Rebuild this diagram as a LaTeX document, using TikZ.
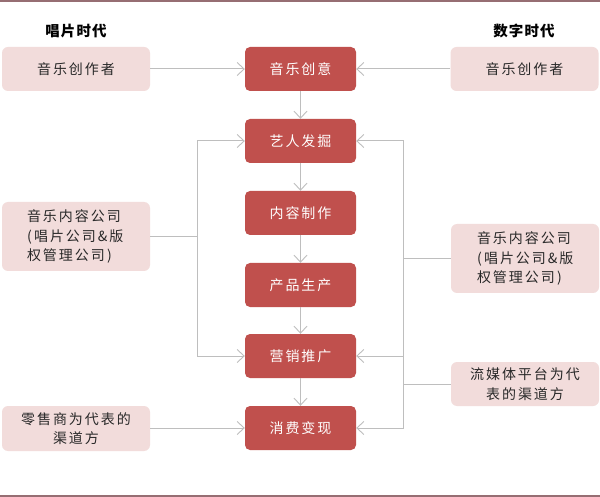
\documentclass[tikz,border=0pt]{standalone}
\usepackage{fontspec}
\setmainfont{Noto Sans CJK SC}
\newfontfamily\cjk{Noto Sans CJK SC}
\usetikzlibrary{arrows.meta}
\definecolor{stepred}{HTML}{C0504D}
\definecolor{sidepink}{HTML}{F2DCDB}
\definecolor{linegray}{RGB}{190,190,190}
\definecolor{rulecol}{RGB}{150,110,115}
\definecolor{txtgray}{RGB}{40,40,40}
\begin{document}
\begin{tikzpicture}[x=1pt,y=-1pt,
  stepbox/.style={fill=stepred, rounded corners=5pt, minimum width=111pt, minimum height=44pt,
    inner sep=0pt, text=white, font=\fontsize{14}{19}\selectfont\addfontfeature{LetterSpace=14}},
  sidebox/.style={fill=sidepink, rounded corners=6pt, minimum width=148pt, inner sep=0pt,
    text=txtgray, font=\fontsize{14}{19.5}\selectfont\addfontfeature{LetterSpace=14}},
  title/.style={text=black, font=\fontsize{14.5}{18}\selectfont\bfseries\addfontfeature{LetterSpace=8}},
  conn/.style={draw=linegray, line width=1pt},
  arr/.style={conn, -{Straight Barb[length=7pt,width=13pt,line width=0.9pt]}}
]
\useasboundingbox (0,0) rectangle (600,497);
\fill[white] (0,0) rectangle (600,497);
\fill[rulecol] (0,0) rectangle (600,2);
\fill[rulecol] (0,495) rectangle (600,497);

% titles
\node[title] (t1) at (76,31) {唱片时代};
\node[title] (t2) at (524,31) {数字时代};

% center steps
\node[stepbox] (s1) at (300.5,69) {音乐创意};
\node[stepbox] (s2) at (300.5,141) {艺人发掘};
\node[stepbox] (s3) at (300.5,213) {内容制作};
\node[stepbox] (s4) at (300.5,285) {产品生产};
\node[stepbox] (s5) at (300.5,356) {营销推广};
\node[stepbox] (s6) at (300.5,428) {消费变现};

% side boxes
\node[sidebox, minimum height=44pt] (l1) at (76,69) {音乐创作者};
\node[sidebox, minimum height=69pt, text width=148pt, align=left] (l2) at (76,236.5)
  {\hspace*{25pt}\parbox{112pt}{音乐内容公司\\(\,唱片公司\&版\\权管理公司\,)}};
\node[sidebox, minimum height=45pt, align=center] (l3) at (76,428.5) {零售商为代表的\\渠道方};

\node[sidebox, minimum height=44pt] (r1) at (524.5,69) {音乐创作者};
\node[sidebox, minimum height=69pt, text width=148pt, align=left] (r2) at (525,258.5)
  {\hspace*{26pt}\parbox{112pt}{音乐内容公司\\(\,唱片公司\&版\\权管理公司\,)}};
\node[sidebox, minimum height=44pt, align=center] (r3) at (525,384) {流媒体平台为代\\表的渠道方};

% junction coordinates
\coordinate (lj) at (197,236.5);
\coordinate (rj1) at (403,258.5);
\coordinate (rj2) at (403,384);

% main chain
\draw[arr] (s1) -- (s2);
\draw[arr] (s2) -- (s3);
\draw[arr] (s3) -- (s4);
\draw[arr] (s4) -- (s5);
\draw[arr] (s5) -- (s6);

% creators
\draw[arr] (l1) -- (s1);
\draw[arr] (r1) -- (s1);

% left content companies
\draw[conn] (l2.east |- lj) -- (lj);
\draw[arr] (lj) |- (s2.west);
\draw[arr] (lj) |- (s5.west);

% left retailer
\draw[arr] (l3.east |- s6.west) -- (s6.west);

% right
\draw[conn] (r2.west |- rj1) -- (rj1);
\draw[conn] (r3.west |- rj2) -- (rj2);
\draw[conn] (rj1) -- (rj2);
\draw[arr] (rj1) |- (s2.east);
\draw[arr] (rj2) |- (s5.east);
\draw[arr] (rj2) |- (s6.east);
\end{tikzpicture}
\end{document}
